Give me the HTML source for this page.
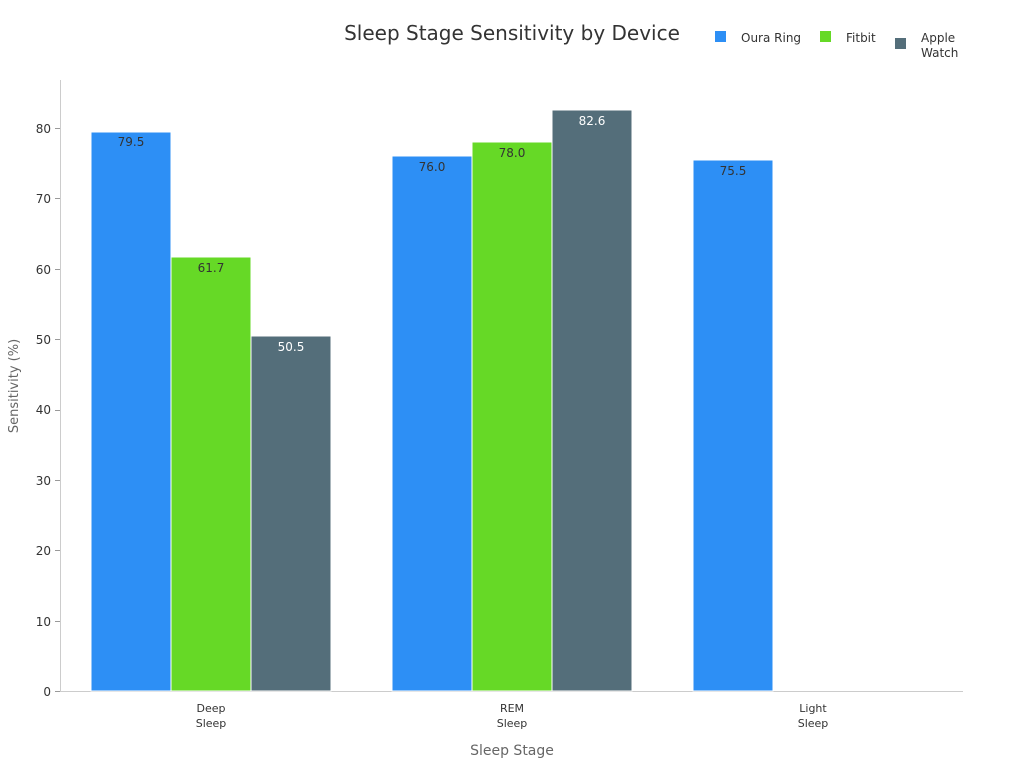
<!DOCTYPE html>
<html><head><meta charset="utf-8"><style>
body{margin:0;background:#fff;}
text{font-family:"DejaVu Sans","Liberation Sans",sans-serif;}
</style></head><body>
<svg width="1024" height="768" xmlns="http://www.w3.org/2000/svg">
<rect width="1024" height="768" fill="#fff"/>
<text x="512" y="40" font-size="20" fill="#333" text-anchor="middle">Sleep Stage Sensitivity by Device</text>
<rect x="715" y="31" width="11" height="11" fill="#2d8ff5"/>
<text x="741" y="42" font-size="12" fill="#333">Oura Ring</text>
<rect x="820" y="31" width="11" height="11" fill="#66d926"/>
<text x="846" y="42" font-size="12" fill="#333">Fitbit</text>
<rect x="895" y="38" width="11" height="11" fill="#546e7a"/>
<text x="921" y="42" font-size="12" fill="#333">Apple</text>
<text x="921" y="57" font-size="12" fill="#333">Watch</text>
<g stroke="#ccc" stroke-width="1">
<line x1="60.5" y1="80" x2="60.5" y2="692"/>
<line x1="60" y1="691.5" x2="963" y2="691.5"/>
</g>
<g font-size="12" fill="#333" text-anchor="end">
<text x="51" y="696">0</text><text x="51" y="626">10</text><text x="51" y="555">20</text>
<text x="51" y="485">30</text><text x="51" y="414">40</text><text x="51" y="344">50</text>
<text x="51" y="274">60</text><text x="51" y="203">70</text><text x="51" y="133">80</text>
</g>
<g stroke="#999"><line x1="55" y1="691.5" x2="60" y2="691.5"/><line x1="55" y1="621.5" x2="60" y2="621.5"/><line x1="55" y1="550.5" x2="60" y2="550.5"/><line x1="55" y1="480.5" x2="60" y2="480.5"/><line x1="55" y1="410.5" x2="60" y2="410.5"/><line x1="55" y1="339.5" x2="60" y2="339.5"/><line x1="55" y1="269.5" x2="60" y2="269.5"/><line x1="55" y1="198.5" x2="60" y2="198.5"/><line x1="55" y1="128.5" x2="60" y2="128.5"/></g>
<g stroke="#fff" stroke-width="1">
<rect x="91" y="132" width="80" height="559" fill="#2d8ff5"/>
<rect x="171" y="257" width="80" height="434" fill="#66d926"/>
<rect x="251" y="336" width="80" height="355" fill="#546e7a"/>
<rect x="392" y="156" width="80" height="535" fill="#2d8ff5"/>
<rect x="472" y="142" width="80" height="549" fill="#66d926"/>
<rect x="552" y="110" width="80" height="581" fill="#546e7a"/>
<rect x="693" y="160" width="80" height="531" fill="#2d8ff5"/>
</g>
<g font-size="12" text-anchor="middle">
<text x="131" y="146" fill="#333">79.5</text>
<text x="211" y="272" fill="#333">61.7</text>
<text x="291" y="351" fill="#fff">50.5</text>
<text x="432" y="171" fill="#333">76.0</text>
<text x="512" y="157" fill="#333">78.0</text>
<text x="592" y="125" fill="#fff">82.6</text>
<text x="733" y="175" fill="#333">75.5</text>
</g>
<g font-size="11" fill="#333" text-anchor="middle">
<text x="211" y="712">Deep</text><text x="211" y="727">Sleep</text>
<text x="512" y="712">REM</text><text x="512" y="727">Sleep</text>
<text x="813" y="712">Light</text><text x="813" y="727">Sleep</text>
</g>
<text x="512" y="755" font-size="14" fill="#666" text-anchor="middle">Sleep Stage</text>
<text transform="translate(18,386) rotate(-90)" font-size="13" fill="#666" text-anchor="middle">Sensitivity (%)</text>
</svg>
</body></html>
